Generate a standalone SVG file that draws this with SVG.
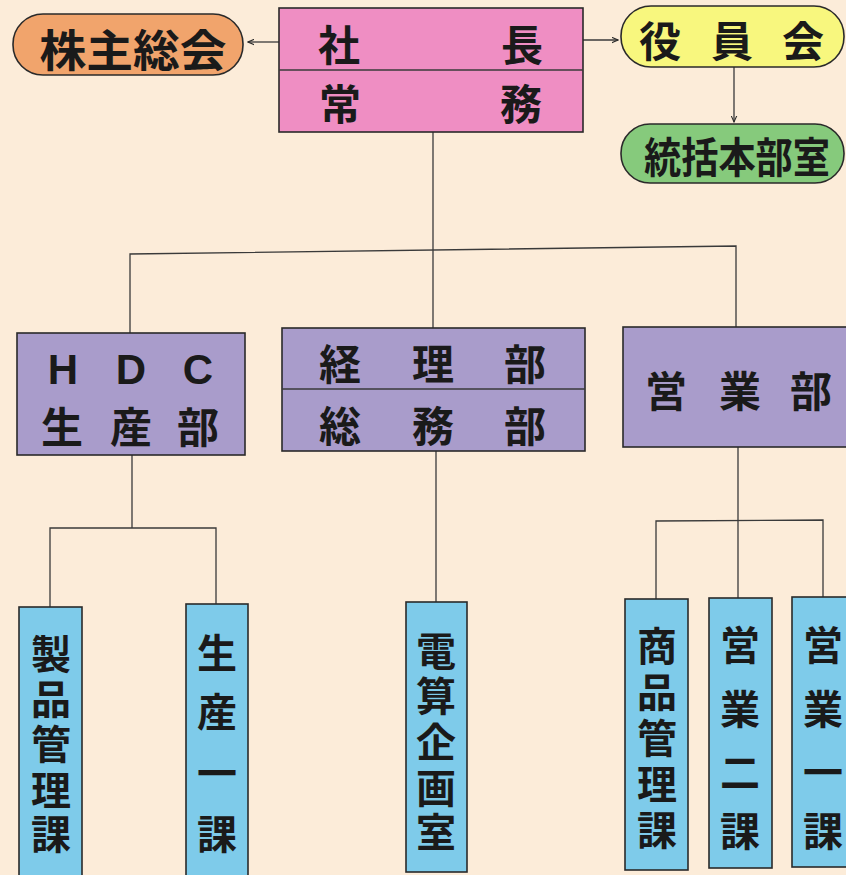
<svg xmlns="http://www.w3.org/2000/svg" width="846" height="875" viewBox="0 0 846 875">
<defs>
<style>
.bg{fill:#fcecd9}
.box{stroke:#2a2a2a;stroke-width:1.6}
.pink{fill:#ef8ec3}
.orange{fill:#f1a46c}
.yellow{fill:#f8f77e}
.green{fill:#86ca7c}
.purple{fill:#a99ccb}
.blue{fill:#7ecbea}
.t{font-family:"Noto Sans CJK JP","Noto Sans",sans-serif;font-weight:700;fill:#1a1a1a;text-anchor:middle;dominant-baseline:central}
.lat{font-family:"Liberation Sans","DejaVu Sans",sans-serif;font-weight:700;fill:#1a1a1a;text-anchor:middle;dominant-baseline:central}
.ln{fill:none;stroke:#3a3a3a;stroke-width:1.3}
.div{stroke:#3a3a3a;stroke-width:1.6}
</style>
<marker id="ah" viewBox="0 0 10 10" refX="9" refY="5" markerWidth="7" markerHeight="7" orient="auto" markerUnits="userSpaceOnUse">
<path d="M0,1 L9,5 L0,9" fill="none" stroke="#2a2a2a" stroke-width="1.5"/>
</marker>
</defs>
<rect class="bg" x="0" y="0" width="846" height="875"/>

<g id="connectors">
<line class="ln" x1="279" y1="42" x2="248" y2="42" marker-end="url(#ah)"/>
<line class="ln" x1="583" y1="40" x2="618" y2="40" marker-end="url(#ah)"/>
<line class="ln" x1="734" y1="67" x2="734" y2="122" marker-end="url(#ah)"/>
<line class="ln" x1="433" y1="132" x2="433" y2="328"/>
<polyline class="ln" points="130,333 130,254 736,246 736,327"/>
<polyline class="ln" points="132,455 132,528"/>
<polyline class="ln" points="50,607 50,528 216,528 216,604"/>
<line class="ln" x1="436" y1="451" x2="436" y2="602"/>
<line class="ln" x1="738" y1="447" x2="738" y2="598"/>
<polyline class="ln" points="656,599 656,521 823,520 823,597"/>
</g>

<g id="shachou">
<rect class="box pink" x="279" y="8" width="304" height="124"/>
<line class="div" x1="279" y1="70" x2="583" y2="70"/>
<text class="t" font-size="42" x="339" y="42">社</text>
<text class="t" font-size="42" x="522" y="42">長</text>
<text class="t" font-size="42" x="340" y="101">常</text>
<text class="t" font-size="42" x="521" y="101">務</text>
</g>

<g id="kabunushi">
<rect class="box orange" x="13" y="14" width="230" height="61" rx="30" ry="30"/>
<text class="t" font-size="44" x="133" y="48" textLength="187" lengthAdjust="spacingAndGlyphs">株主総会</text>
</g>

<g id="yakuinkai">
<rect class="box yellow" x="621" y="6" width="223" height="61" rx="30" ry="30"/>
<text class="t" font-size="42" x="660" y="38">役</text>
<text class="t" font-size="42" x="732" y="38">員</text>
<text class="t" font-size="42" x="803" y="38">会</text>
</g>

<g id="toukatsu">
<rect class="box green" x="621" y="124" width="223" height="59" rx="29" ry="29"/>
<text class="t" font-size="42" x="737" y="154" textLength="186" lengthAdjust="spacingAndGlyphs">統括本部室</text>
</g>

<g id="hdc">
<rect class="box purple" x="17" y="333" width="228" height="122"/>
<text class="lat" font-size="42" x="63" y="369">H</text>
<text class="lat" font-size="42" x="131" y="369">D</text>
<text class="lat" font-size="42" x="198" y="369">C</text>
<text class="t" font-size="42" x="62" y="424">生</text>
<text class="t" font-size="42" x="131" y="424">産</text>
<text class="t" font-size="42" x="198" y="424">部</text>
</g>

<g id="keiri">
<rect class="box purple" x="282" y="328" width="303" height="123"/>
<line class="div" x1="282" y1="389" x2="585" y2="389"/>
<text class="t" font-size="42" x="340" y="361">経</text>
<text class="t" font-size="42" x="433" y="361">理</text>
<text class="t" font-size="42" x="525" y="361">部</text>
<text class="t" font-size="42" x="340" y="423">総</text>
<text class="t" font-size="42" x="433" y="423">務</text>
<text class="t" font-size="42" x="525" y="423">部</text>
</g>

<g id="eigyo">
<rect class="box purple" x="623" y="327" width="230" height="120"/>
<text class="t" font-size="42" x="666" y="388">営</text>
<text class="t" font-size="42" x="740" y="388">業</text>
<text class="t" font-size="42" x="811" y="388">部</text>
</g>

<g id="seihin">
<rect class="box blue" x="19" y="607" width="63" height="275"/>
<text class="t" font-size="40"><tspan x="51" y="652">製</tspan><tspan x="51" y="697">品</tspan><tspan x="51" y="742">管</tspan><tspan x="51" y="788">理</tspan><tspan x="51" y="832">課</tspan></text>
</g>

<g id="seisan1">
<rect class="box blue" x="186" y="604" width="62" height="278"/>
<text class="t" font-size="40"><tspan x="217" y="651">生</tspan><tspan x="217" y="710">産</tspan><tspan x="217" y="771">一</tspan><tspan x="217" y="832">課</tspan></text>
</g>

<g id="densan">
<rect class="box blue" x="406" y="602" width="61" height="270"/>
<text class="t" font-size="40"><tspan x="436" y="649">電</tspan><tspan x="436" y="694">算</tspan><tspan x="436" y="740">企</tspan><tspan x="436" y="786">画</tspan><tspan x="436" y="830">室</tspan></text>
</g>

<g id="shouhin">
<rect class="box blue" x="625" y="599" width="63" height="271"/>
<text class="t" font-size="40"><tspan x="657" y="644">商</tspan><tspan x="657" y="690">品</tspan><tspan x="657" y="736">管</tspan><tspan x="657" y="782">理</tspan><tspan x="657" y="828">課</tspan></text>
</g>

<g id="eigyo2">
<rect class="box blue" x="709" y="598" width="63" height="270"/>
<text class="t" font-size="40"><tspan x="740" y="643">営</tspan><tspan x="740" y="707">業</tspan><tspan x="740" y="770">二</tspan><tspan x="740" y="829">課</tspan></text>
</g>

<g id="eigyo1">
<rect class="box blue" x="792" y="597" width="63" height="270"/>
<text class="t" font-size="40"><tspan x="823" y="643">営</tspan><tspan x="823" y="707">業</tspan><tspan x="823" y="770">一</tspan><tspan x="823" y="829">課</tspan></text>
</g>
</svg>
